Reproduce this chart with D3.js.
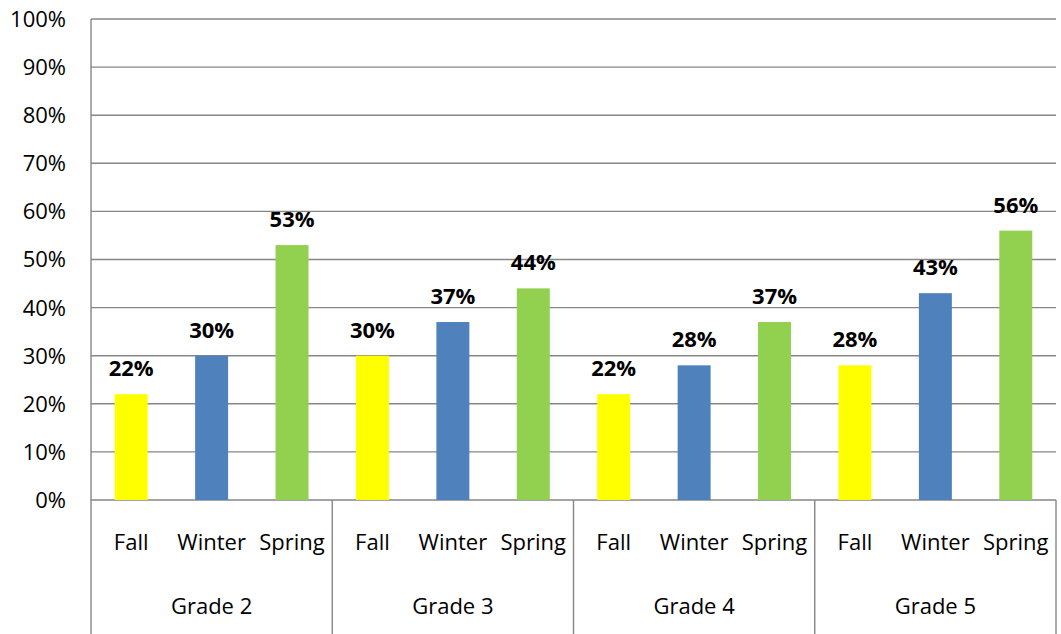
<!DOCTYPE html>
<html>
<head>
<meta charset="utf-8">
<script src="https://cdn.jsdelivr.net/npm/d3@7"></script>
<style>
  body { margin: 0; background: #fff; }
  text { font-family: "Open Sans", "Liberation Sans", sans-serif; fill: #000; }
</style>
</head>
<body>
<div id="chart"></div>
<script>
// data
const grades = ["Grade 2", "Grade 3", "Grade 4", "Grade 5"];
const seasons = ["Fall", "Winter", "Spring"];
const fallValues = [22, 30, 22, 28];
const winterValues = [30, 37, 28, 43];
const springValues = [53, 44, 37, 56];
const yTicks = [0, 10, 20, 30, 40, 50, 60, 70, 80, 90, 100];
const seasonColors = ["#FFFF00", "#4F81BD", "#92D050"];

const width = 1061, height = 634;
const margin = {top: 19, right: 5, bottom: 134, left: 91};

const svg = d3.select("#chart").append("svg")
    .attr("width", width)
    .attr("height", height);

const plotW = width - margin.left - margin.right;
const plotH = height - margin.top - margin.bottom;

const g = svg.append("g")
    .attr("transform", "translate(" + margin.left + "," + margin.top + ")");

const y = d3.scaleLinear().domain([0, 100]).range([plotH, 0]);

const x0 = d3.scaleBand().domain(grades).range([0, plotW]).padding(0);
const x1 = d3.scaleBand().domain(seasons).range([0, x0.bandwidth()]).paddingInner(0.59).paddingOuter(0.295);
const slot = d3.scaleBand().domain(seasons).range([0, x0.bandwidth()]);

const fs = "22px";

// gridlines
g.selectAll(".grid")
    .data(yTicks)
    .enter().append("line")
    .attr("x1", 0).attr("x2", plotW)
    .attr("y1", d => y(d)).attr("y2", d => y(d))
    .attr("stroke", "#868686")
    .attr("stroke-width", 1.4);

// y labels
g.selectAll(".ylab")
    .data(yTicks)
    .enter().append("text")
    .attr("x", -25)
    .attr("y", d => y(d))
    .attr("dy", "0.36em")
    .attr("text-anchor", "end")
    .style("font-size", fs)
    .text(d => d + "%");

// bars
const rows = grades.map((gr, i) => ({
    grade: gr,
    vals: [fallValues[i], winterValues[i], springValues[i]]
}));

const groups = g.selectAll(".grade")
    .data(rows)
    .enter().append("g")
    .attr("transform", d => "translate(" + x0(d.grade) + ",0)");

groups.selectAll("rect")
    .data(d => d.vals.map((v, j) => ({season: seasons[j], value: v, idx: j})))
    .enter().append("rect")
    .attr("x", d => x1(d.season))
    .attr("width", x1.bandwidth())
    .attr("y", d => y(d.value))
    .attr("height", d => plotH - y(d.value))
    .attr("fill", d => seasonColors[d.idx]);

groups.selectAll(".val")
    .data(d => d.vals.map((v, j) => ({season: seasons[j], value: v})))
    .enter().append("text")
    .attr("x", d => x1(d.season) + x1.bandwidth() / 2)
    .attr("y", d => y(d.value) - 18)
    .attr("text-anchor", "middle")
    .style("font-size", fs)
    .style("font-weight", "bold")
    .text(d => d.value + "%");

// season labels
groups.selectAll(".season")
    .data(seasons)
    .enter().append("text")
    .attr("x", d => slot(d) + slot.bandwidth() / 2)
    .attr("y", plotH + 50)
    .attr("text-anchor", "middle")
    .style("font-size", fs)
    .text(d => d);

// grade labels
groups.append("text")
    .attr("x", x0.bandwidth() / 2)
    .attr("y", plotH + 114)
    .attr("text-anchor", "middle")
    .style("font-size", fs)
    .text(d => d.grade);

// separators
const seps = grades.map(d => x0(d)).concat([plotW]);
g.selectAll(".sep")
    .data(seps)
    .enter().append("line")
    .attr("x1", d => d).attr("x2", d => d)
    .attr("y1", (d, i) => (i === 0 ? 0 : plotH))
    .attr("y2", height - margin.top)
    .attr("stroke", "#868686")
    .attr("stroke-width", 1.4);
</script>
</body>
</html>
